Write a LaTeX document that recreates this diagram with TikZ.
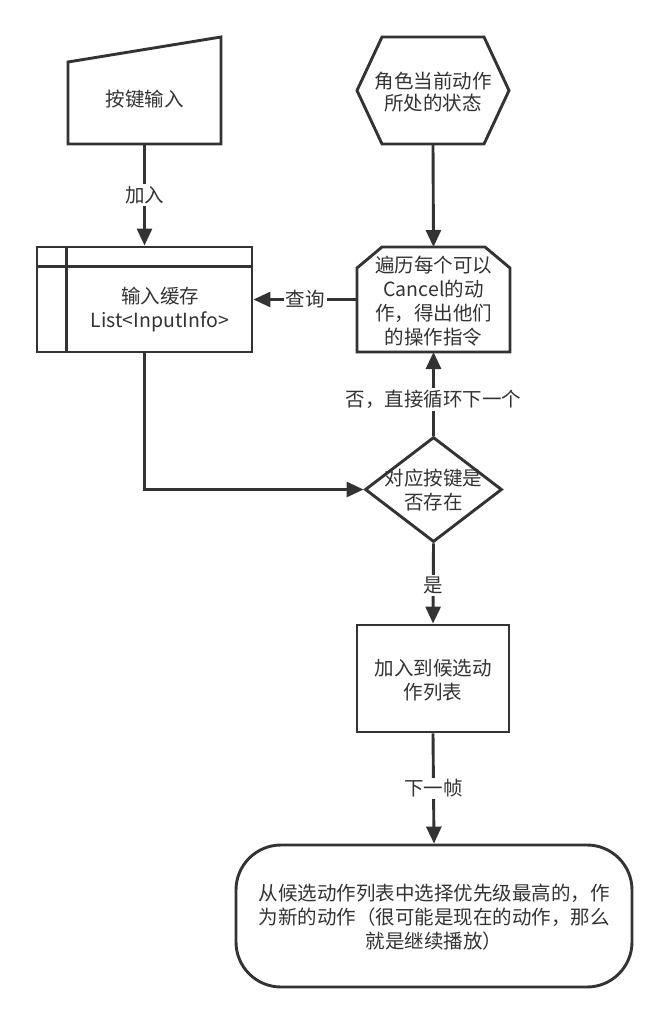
\documentclass[tikz,border=0pt]{standalone}
\usepackage{fontspec}
\setmainfont{Noto Sans CJK SC}
\usetikzlibrary{arrows.meta,shapes.geometric,calc}
\definecolor{ink}{HTML}{333333}
\newcommand\myfs{\fontsize{19.5}{24}\selectfont}
\newcommand\myfsh{\fontsize{19.5}{22}\selectfont}
\begin{document}
\begin{tikzpicture}[x=1pt,y=-1pt,
  outline/.style={draw=ink, line width=2.9pt, line join=miter, inner sep=0pt},
  ghost/.style={inner sep=0pt, outer sep=0pt, draw=none},
  txt/.style={text=ink, font=\myfs, align=center, inner sep=0pt},
  arr/.style={draw=ink, line width=2.9pt, -{Triangle[length=17pt,width=15pt]}},
  lbl/.style={fill=white, text=ink, font=\myfs, inner sep=2pt}]
\fill[white] (0,0) rectangle (668,1024);
\useasboundingbox (0,0) rectangle (668,1024);

% manual input
\node[ghost, minimum width=153, minimum height=107] (key) at (144.5,90.5) {};
\draw[outline] ($(key.north west)+(0,25)$) -- (key.north east) -- (key.south east) -- (key.south west) -- cycle;
\node[txt] (keyt) at (144.5,99) {按键输入};

% hexagon
\node[ghost, minimum width=152, minimum height=107] (hex) at (433,90.5) {};
\draw[outline] (hex.west) -- ($(hex.north west)+(25,0)$) -- ($(hex.north east)+(-25,0)$) -- (hex.east) -- ($(hex.south east)+(-25,0)$) -- ($(hex.south west)+(25,0)$) -- cycle;
\node[txt, font=\myfsh] (hext) at (433,92.5) {角色当前动作\\所处的状态};

% input cache
\node[outline, minimum width=215, minimum height=105] (cache) at (144.5,299.5) {};
\draw[outline] ($(cache.north west)+(31,0)$) -- ($(cache.south west)+(31,0)$);
\draw[outline] ($(cache.north west)+(0,21)$) -- ($(cache.north east)+(0,21)$);
\node[txt] (cachet) at (160,310) {输入缓存\\List<InputInfo>};

% loop limit
\node[ghost, minimum width=153, minimum height=105] (loop) at (433.5,299.5) {};
\draw[outline] ($(loop.north west)+(25,0)$) -- ($(loop.north east)+(-25,0)$) -- ($(loop.north east)+(0,21)$) -- (loop.south east) -- (loop.south west) -- ($(loop.north west)+(0,21)$) -- cycle;
\node[txt] (loopt) at (433.5,301) {遍历每个可以\\Cancel的动\\作，得出他们\\的操作指令};

% decision
\node[diamond, outline, minimum width=137, minimum height=105] (dec) at (433.5,489.5) {};
\node[txt] (dect) at (433.5,490) {对应按键是\\否存在};

% candidate box
\node[outline, minimum width=152, minimum height=107] (cand) at (433,678.5) {};
\node[txt] (candt) at (433,680) {加入到候选动\\作列表};

% terminal
\node[outline, rounded corners=45pt, minimum width=396, minimum height=142] (term) at (434,916) {};
\node[txt] (termt) at (434,917) {从候选动作列表中选择优先级最高的，作\\为新的动作（很可能是现在的动作，那么\\就是继续播放）};

% connectors
\draw[arr] (key.south) -- node[lbl]{加入} (cache.north);
\draw[arr] (hex.south) -- (loop.north);
\draw[arr] (loop.west) -- node[lbl]{查询} (cache.east);
\draw[arr] (cache.south) |- (dec.west);
\draw[arr] (dec.north) -- node[lbl, pos=0.43]{否，直接循环下一个} (loop.south);
\draw[arr] (dec.south) -- node[lbl, pos=0.52]{是} (cand.north);
\draw[arr] (cand.south) -- node[lbl]{下一帧} (term.north);
\end{tikzpicture}
\end{document}
